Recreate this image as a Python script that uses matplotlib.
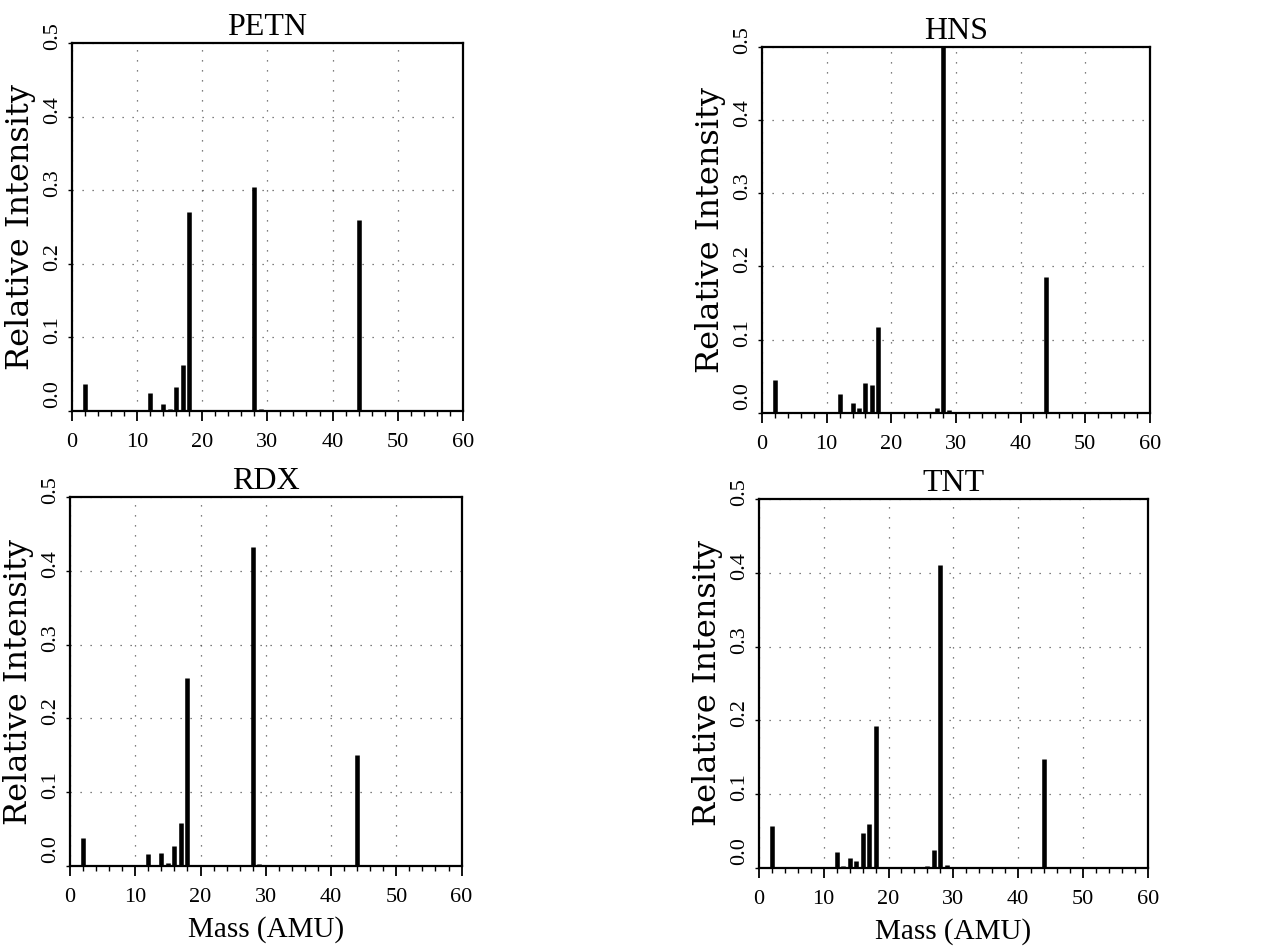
import matplotlib
matplotlib.use('Agg')
import matplotlib.pyplot as plt
import matplotlib.transforms as mtransforms
import numpy as np

# espectros de massa (massa em AMU, intensidade relativa)
petn_massa = [2, 12, 14, 15, 16, 17, 18, 28, 29, 44]
petn_int = [0.037, 0.024, 0.010, 0.003, 0.033, 0.063, 0.270, 0.305, 0.003, 0.260]

hns_massa = [2, 12, 14, 15, 16, 17, 18, 27, 28, 29, 44]
hns_int = [0.045, 0.026, 0.014, 0.007, 0.041, 0.038, 0.117, 0.006, 0.500, 0.004, 0.186]

rdx_massa = [2, 12, 14, 15, 16, 17, 18, 27, 28, 29, 44]
rdx_int = [0.038, 0.016, 0.018, 0.004, 0.027, 0.058, 0.255, 0.002, 0.432, 0.003, 0.150]

tnt_massa = [2, 12, 13, 14, 15, 16, 17, 18, 26, 27, 28, 29, 44]
tnt_int = [0.057, 0.022, 0.003, 0.013, 0.010, 0.047, 0.060, 0.192, 0.003, 0.025, 0.411, 0.004, 0.148]

titulos = ['PETN', 'HNS', 'RDX', 'TNT']
massas = [petn_massa, hns_massa, rdx_massa, tnt_massa]
intensidades = [petn_int, hns_int, rdx_int, tnt_int]

x_ticks = [0, 10, 20, 30, 40, 50, 60]
y_ticks = [0.0, 0.1, 0.2, 0.3, 0.4, 0.5]

plt.rcParams['font.family'] = ['Liberation Serif', 'DejaVu Serif']

fig = plt.figure(figsize=(12.84, 9.47), dpi=100)

# posicoes dos paineis [esq, baixo, largura, altura]
posicoes = [
    [0.056, 0.566, 0.3045, 0.3886],
    [0.5935, 0.564, 0.302, 0.3865],
    [0.0545, 0.0855, 0.305, 0.3897],
    [0.591, 0.0834, 0.303, 0.3897],
]

for i in range(4):
    ax = fig.add_axes(posicoes[i])
    ax.vlines(massas[i], 0, intensidades[i], color='black', linewidth=3.3)
    ax.set_xlim(0, 60)
    ax.set_ylim(0, 0.5)
    ax.set_xticks(x_ticks)
    ax.set_xticks(np.arange(0, 61, 2), minor=True)
    ax.set_yticks(y_ticks)
    ax.set_yticklabels([f'{v:.1f}' for v in y_ticks], rotation=90, va='center')
    ax.tick_params(axis='x', which='major', direction='out', length=7, width=1.3,
                   labelsize=16, pad=9)
    ax.tick_params(axis='x', which='minor', direction='out', length=3.5, width=1)
    ax.tick_params(axis='y', direction='out', length=3, width=1, labelsize=16, pad=4)
    # rotulos do eixo y um pouco acima do tick, como no original
    for k, lab in enumerate(ax.get_yticklabels()):
        dy = 12 if k == 0 else 5
        lab.set_transform(lab.get_transform() +
                          mtransforms.ScaledTranslation(0, dy / 72, fig.dpi_scale_trans))
    for lado in ax.spines.values():
        lado.set_linewidth(1.6)
    ax.grid(True, which='major', color='#555555', linestyle=(0, (1, 7)), linewidth=0.9)
    ax.set_title(titulos[i], fontsize=23, pad=6)
    ax.set_ylabel('Relative Intensity', fontsize=23, family=['DejaVu Serif'])
    ax.yaxis.set_label_coords(-0.093, 0.5)
    if i >= 2:
        ax.set_xlabel('Mass (AMU)', fontsize=21, labelpad=6)

plt.savefig('out.png', dpi=100)
